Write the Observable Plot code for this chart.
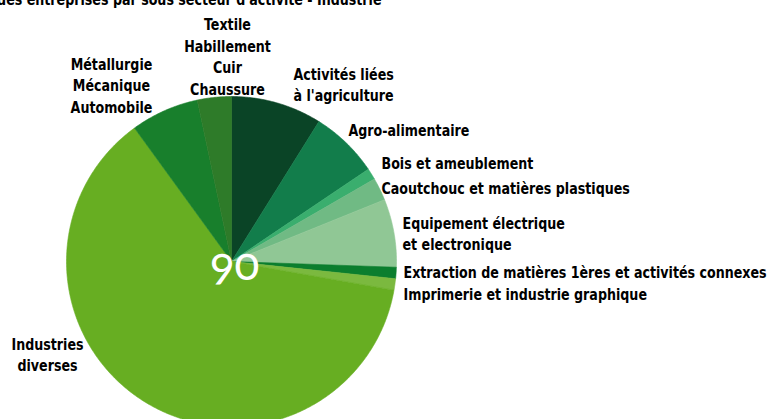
<!DOCTYPE html>
<html>
<head>
<meta charset="utf-8">
<script src="https://cdn.jsdelivr.net/npm/d3@7"></script>
<script src="https://cdn.jsdelivr.net/npm/@observablehq/plot@0.6"></script>
<style>
  html, body { margin: 0; padding: 0; background: #fff; }
  #chart svg { display: block; }
</style>
</head>
<body>
<div id="chart"></div>
<script>
// ---- data ----
const titleText = "Répartition des entreprises par sous secteur d'activité - Industrie";
const sectors = [
  "Activités liées à l'agriculture",
  "Agro-alimentaire",
  "Bois et ameublement",
  "Caoutchouc et matières plastiques",
  "Equipement électrique et electronique",
  "Extraction de matières 1ères et activités connexes",
  "Imprimerie et industrie graphique",
  "Industries diverses",
  "Métallurgie Mécanique Automobile",
  "Textile Habillement Cuir Chaussure"
];
const counts = [8, 6, 1, 2, 6, 1, 1, 56, 6, 3];
const labelTexts = [
  "Activités liées\nà l'agriculture",
  "Agro-alimentaire",
  "Bois et ameublement",
  "Caoutchouc et matières plastiques",
  "Equipement électrique\net electronique",
  "Extraction de matières 1ères et activités connexes",
  "Imprimerie et industrie graphique",
  "Industries\ndiverses",
  "Métallurgie\nMécanique\nAutomobile",
  "Textile\nHabillement\nCuir\nChaussure"
];
const sliceColors = ["#0a4426", "#127d4b", "#3aae6e", "#70ba84", "#90c795",
                     "#0b7e2e", "#7bb93f", "#67ae22", "#187f2c", "#2e7b29"];

// ---- layout (pixels) ----
const W = 769, H = 419;
const cx = 231, cy = 261, R = 165;
const labelLayout = [
  {x: 293, y: 83,  anchor: "start"},
  {x: 348, y: 129, anchor: "start"},
  {x: 381, y: 162, anchor: "start"},
  {x: 381, y: 187, anchor: "start"},
  {x: 402, y: 232, anchor: "start"},
  {x: 403, y: 271, anchor: "start"},
  {x: 403, y: 293, anchor: "start"},
  {x: 47,  y: 353, anchor: "middle"},
  {x: 111, y: 84,  anchor: "middle"},
  {x: 227, y: 55,  anchor: "middle"}
];
const squeeze = 0.88;

// ---- build slice polygons from the data ----
const pie = d3.pie().sort(null).value(d => d.value).startAngle(0).endAngle(2 * Math.PI);
const arcs = pie(sectors.map((s, i) => ({name: s, value: counts[i]})));
const polyPts = [];
for (const a of arcs) {
  const name = a.data.name;
  polyPts.push({name, x: cx, y: cy});
  const n = Math.max(2, Math.ceil((a.endAngle - a.startAngle) / (Math.PI / 360)));
  for (let k = 0; k <= n; k++) {
    const t = a.startAngle + (a.endAngle - a.startAngle) * k / n;
    polyPts.push({name, x: cx + R * Math.sin(t), y: cy - R * Math.cos(t)});
  }
  polyPts.push({name, x: cx, y: cy});
}
const labels = labelTexts.map((t, i) => ({text: t, ...labelLayout[i]}));
const total = d3.sum(counts);

const font = "'DejaVu Sans Condensed', 'DejaVu Sans', sans-serif";

const chart = Plot.plot({
  width: W, height: H,
  margin: 0,
  x: {domain: [0, W], range: [0, W], axis: null},
  y: {domain: [0, H], range: [0, H], axis: null},
  color: {type: "ordinal", domain: sectors, range: sliceColors},
  style: {background: "#fff", overflow: "hidden"},
  marks: [
    Plot.line(polyPts, {x: "x", y: "y", z: "name", fill: "name", stroke: "name",
      strokeWidth: 0.6, curve: "linear"}),
    Plot.text([total], {x: cx + 3, y: cy + 4, text: d => String(d), fill: "white",
      fontSize: 46, fontFamily: "Lato, 'Open Sans', sans-serif", fontWeight: 400,
      className: "total-label"}),
    Plot.text(labels.filter(d => d.anchor === "start"), {x: "x", y: "y", text: "text",
      textAnchor: "start", lineAnchor: "middle", lineHeight: 1.36,
      fontSize: 16, fontWeight: "bold", fontFamily: font, fill: "#000", className: "sq"}),
    Plot.text(labels.filter(d => d.anchor === "middle"), {x: "x", y: "y", text: "text",
      textAnchor: "middle", lineAnchor: "middle", lineHeight: 1.36,
      fontSize: 16, fontWeight: "bold", fontFamily: font, fill: "#000", className: "sq"}),
    Plot.text([titleText], {x: 381, y: 4, text: d => d, textAnchor: "end",
      lineAnchor: "bottom", fontSize: 16, fontWeight: "bold", fontFamily: font, fill: "#000",
      className: "sq"})
  ]
});
// condensed look: compress label glyphs horizontally around their anchor
chart.querySelectorAll("g.sq text").forEach(t => {
  const tr = t.getAttribute("transform") || "";
  t.setAttribute("transform", tr + ` scale(${squeeze},1)`);
});
chart.querySelectorAll("g.total-label text").forEach(t => {
  t.style.fontFeatureSettings = '"onum"';
  t.style.fontVariantNumeric = "oldstyle-nums";
});
document.getElementById("chart").appendChild(chart);
</script>
</body>
</html>
